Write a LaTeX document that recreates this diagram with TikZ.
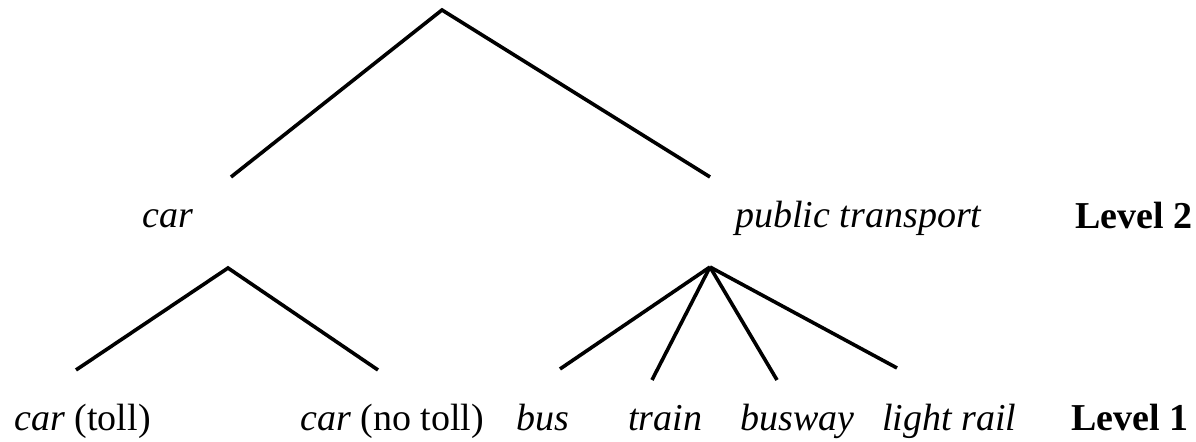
\documentclass[tikz,border=0pt]{standalone}
\usepackage{fontspec}
\setmainfont{Liberation Serif}
\usetikzlibrary{positioning}

\begin{document}
\begin{tikzpicture}[
  x=0.5pt, y=-0.5pt,
  lbl/.style={anchor=base west, inner sep=0pt, font=\fontsize{19}{22}\selectfont},
  lvl/.style={lbl, font=\fontsize{19}{22}\selectfont\bfseries},
  branch/.style={line width=1.8pt, black}
]
\useasboundingbox (0,0) rectangle (1196,442);

% Root split
\coordinate (Root)   at (442,10);
\coordinate (CarTop) at (231,177);
\coordinate (PTTop)  at (710,177);

% Level 2 nests
\node[lbl] (Car) at (142,228) {\textit{car}};
\node[lbl] (PT)  at (735,228) {\textit{public transport}};
\node[lvl] (L2)  at (1075,229) {Level 2};

% Car branch ends
\coordinate (CarApex) at (228,268);
\coordinate (CarA)    at (76,370);
\coordinate (CarB)    at (378,370);

% Public transport branch ends
\coordinate (PTApex) at (710,267);
\coordinate (PTA)    at (560,369);
\coordinate (PTB)    at (652,380);
\coordinate (PTC)    at (777,380);
\coordinate (PTD)    at (897,368);

% Level 1 alternatives
\node[lbl] (Toll)   at (14,431)  {\textit{car} (toll)};
\node[lbl] (NoToll) at (300,431) {\textit{car} (no toll)};
\node[lbl] (Bus)    at (516,431) {\textit{bus}};
\node[lbl] (Train)  at (628,431) {\textit{train}};
\node[lbl] (Busway) at (740,431) {\textit{busway}};
\node[lbl] (Rail)   at (882,431) {\textit{light rail}};
\node[lvl] (L1)     at (1071,431) {Level 1};

% Branches
\draw[branch] (CarTop) -- (Root) -- (PTTop);
\draw[branch] (CarA) -- (CarApex) -- (CarB);
\draw[branch] (PTApex) -- (PTA);
\draw[branch] (PTApex) -- (PTB);
\draw[branch] (PTApex) -- (PTC);
\draw[branch] (PTApex) -- (PTD);
\end{tikzpicture}
\end{document}
